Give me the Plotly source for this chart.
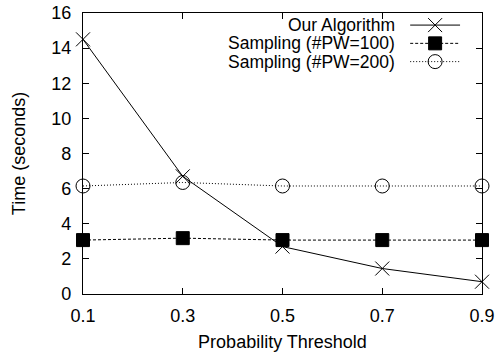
import plotly.graph_objects as go

thresholds = [0.1, 0.3, 0.5, 0.7, 0.9]
our_algorithm = [14.5, 6.7, 2.7, 1.45, 0.7]
sampling_100 = [3.07, 3.18, 3.07, 3.07, 3.07]
sampling_200 = [6.15, 6.35, 6.15, 6.15, 6.15]

names = ["Our Algorithm", "Sampling (#PW=100)", "Sampling (#PW=200)"]
series = [our_algorithm, sampling_100, sampling_200]
dashes = ["solid", "3px,2px", "1px,2px"]
symbols = ["x-thin-open", "square", "circle-open"]
sizes = [14, 13, 14]

FONT = "Liberation Sans, Arial, sans-serif"

fig = go.Figure()
for name, ys, dash, sym, sz in zip(names, series, dashes, symbols, sizes):
    fig.add_trace(go.Scatter(
        x=thresholds, y=ys, mode="lines+markers", name=name,
        line=dict(color="black", width=1, dash=dash),
        marker=dict(symbol=sym, size=sz, color="black",
                    line=dict(color="black", width=1)),
        cliponaxis=False, showlegend=False,
    ))

# hand-built legend: label on the left, line sample with marker on the right
leg_y = [0.957, 0.892, 0.827]
x0, x1 = 0.82, 0.945
for name, dash, sym, sz, yy in zip(names, dashes, symbols, sizes, leg_y):
    fig.add_shape(type="line", xref="paper", yref="paper",
                  x0=x0, x1=x1, y0=yy, y1=yy,
                  line=dict(color="black", width=1, dash=dash))
    fig.add_annotation(xref="paper", yref="paper", x=0.785, y=yy,
                       text=name, showarrow=False, xanchor="right",
                       yanchor="middle", borderpad=0,
                       font=dict(family=FONT, size=17.5, color="black"))
    fig.add_trace(go.Scatter(
        x=[(x0 + x1) / 2], y=[yy], xaxis="x2", yaxis="y2", mode="markers",
        marker=dict(symbol=sym, size=sz, color="black",
                    line=dict(color="black", width=1)),
        showlegend=False, hoverinfo="skip", cliponaxis=False,
    ))

axis_common = dict(
    showline=True, linecolor="black", linewidth=1.2, mirror="ticks",
    ticks="inside", ticklen=6, tickcolor="black", showgrid=False,
    zeroline=False, automargin=False,
    tickfont=dict(family=FONT, size=18, color="black"),
)

fig.update_layout(
    width=499, height=356,
    margin=dict(l=83, r=17, t=13, b=62),
    paper_bgcolor="white", plot_bgcolor="white",
    xaxis=dict(range=[0.1, 0.9], tickvals=thresholds,
               ticktext=["0.1", "0.3", "0.5", "0.7", "0.9"],
               ticklabelstandoff=5,
               title=dict(text="Probability Threshold", standoff=10,
                          font=dict(family=FONT, size=18, color="black")),
               **axis_common),
    yaxis=dict(range=[0, 16], dtick=2, ticklabelstandoff=7,
               title=dict(text="Time (seconds)", standoff=20,
                          font=dict(family=FONT, size=18, color="black")),
               **axis_common),
    xaxis2=dict(range=[0, 1], overlaying="x", visible=False),
    yaxis2=dict(range=[0, 1], overlaying="y", visible=False),
)

fig.write_html("out.html")
